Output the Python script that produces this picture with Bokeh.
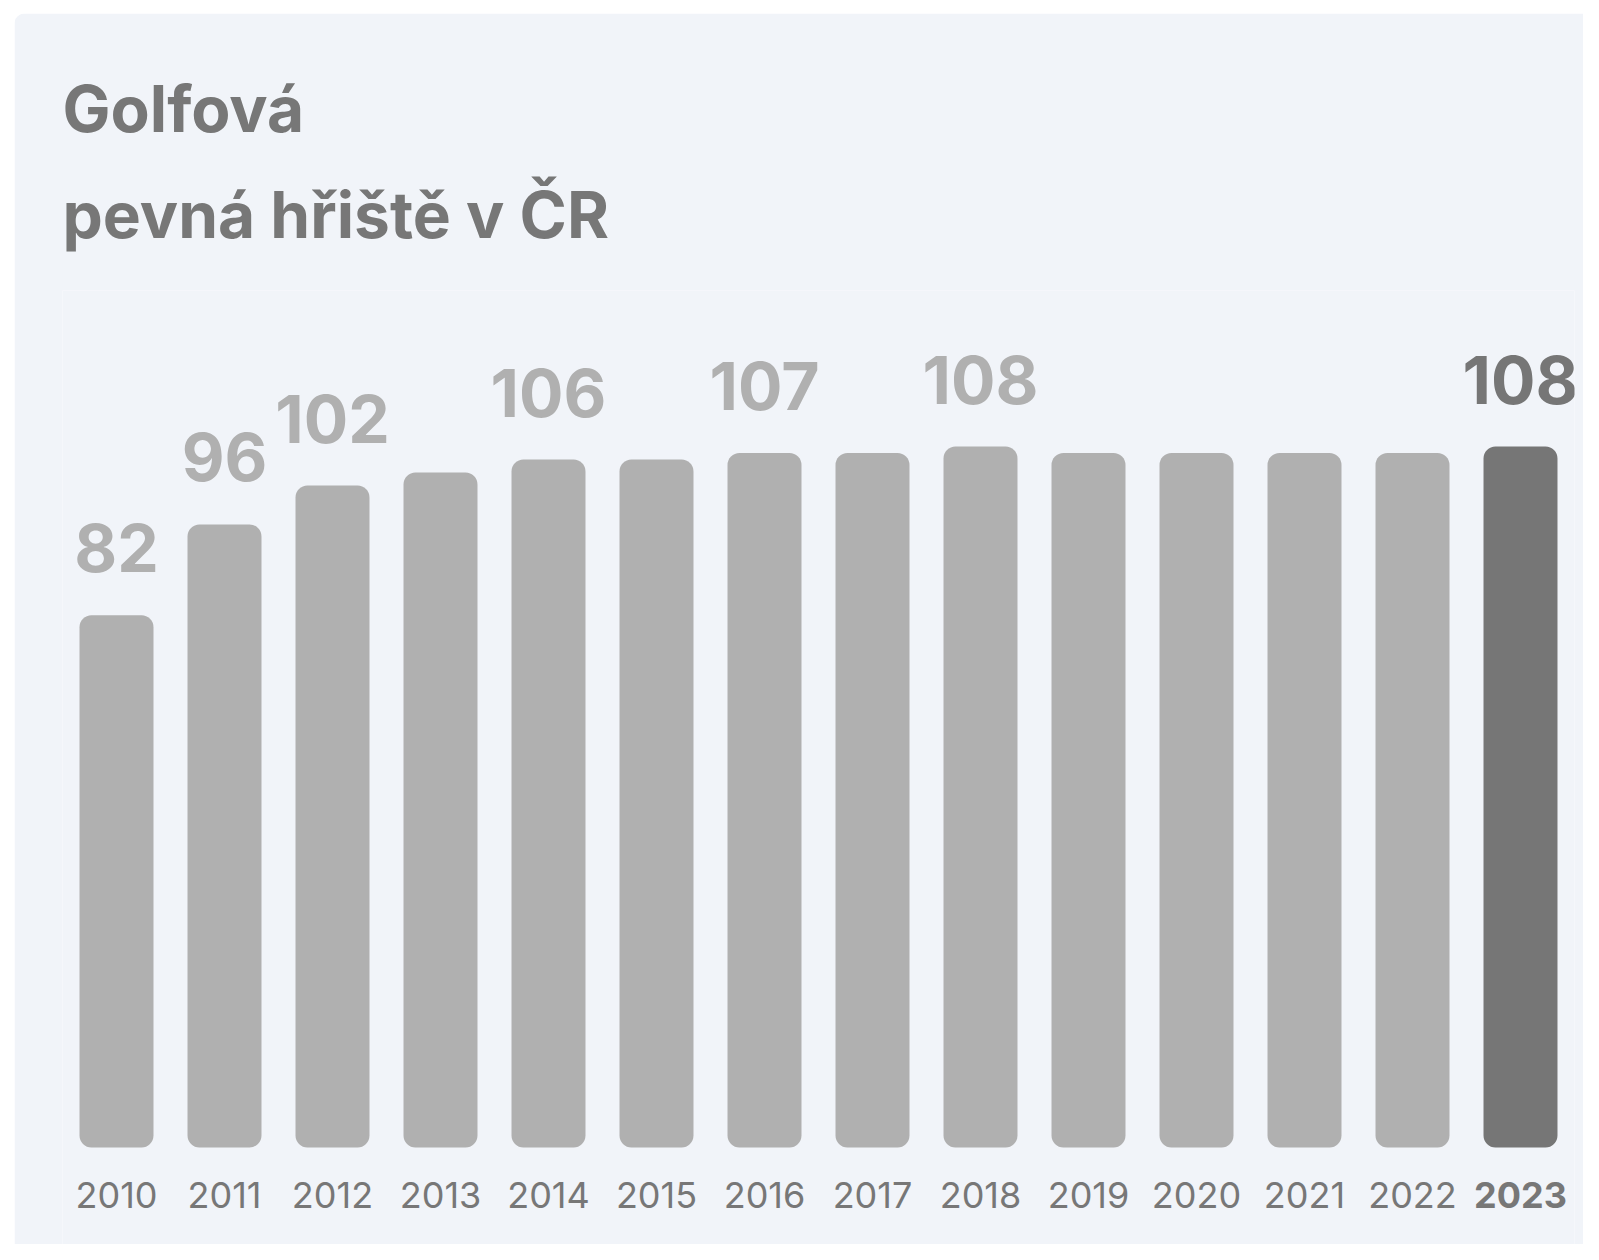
from bokeh.plotting import figure
from bokeh.models import ColumnDataSource, LabelSet, Title, FactorRange, Range1d, Spacer
from bokeh.layouts import column, row
from bokeh.core.properties import value
from bokeh.embed import file_html
from bokeh.resources import INLINE

# ---- data ----
years = ["2010", "2011", "2012", "2013", "2014", "2015", "2016",
         "2017", "2018", "2019", "2020", "2021", "2022", "2023"]
values = [82, 96, 102, 104, 106, 106, 107, 107, 108, 107, 107, 107, 107, 108]
labeled_years = ["2010", "2011", "2012", "2014", "2016", "2018", "2023"]
highlight_year = "2023"
title_line1 = "Golfová"
title_line2 = "pevná hřiště v ČR"

# ---- style ----
FONT = "Inter"
BG = "#f1f4f9"
BAR = "#b0b0b0"
BAR_HI = "#767676"
TXT = "#777777"

colors = [BAR_HI if y == highlight_year else BAR for y in years]
styles = ["bold" if y == highlight_year else "normal" for y in years]
src = ColumnDataSource(dict(year=years, value=values, color=colors,
                            style=styles, zero=[0] * len(years)))

lab_vals = [values[years.index(y)] for y in labeled_years]
lab_cols = [BAR_HI if y == highlight_year else BAR for y in labeled_years]
lab_src = ColumnDataSource(dict(year=labeled_years, value=lab_vals,
                                text=[str(v) for v in lab_vals], color=lab_cols))

p = figure(x_range=FactorRange(factors=years, range_padding=0),
           y_range=Range1d(-14.95, 132.05),
           width=1569, height=1231,
           output_backend="svg", toolbar_location=None,
           x_axis_location=None, y_axis_location=None,
           min_border_left=48, min_border_right=9,
           min_border_top=277, min_border_bottom=0,
           background_fill_color=BG, border_fill_color=BG,
           outline_line_color=None)
p.styles = {"border-radius": "12px 0 0 0", "overflow": "hidden"}

p.xgrid.visible = False
p.ygrid.visible = False

p.vbar(x="year", top="value", bottom=0, width=0.685, source=src,
       fill_color="color", line_color=None, border_radius=12)

# value labels
p.add_layout(LabelSet(x="year", y="value", text="text", source=lab_src,
                      text_color="color", text_font=value(FONT),
                      text_font_size="66px", text_font_style="bold",
                      text_align="center", text_baseline="alphabetic",
                      y_offset=43))

# category (year) labels
p.add_layout(LabelSet(x="year", y="zero", text="year", source=src,
                      text_color=TXT, text_font=value(FONT),
                      text_font_size="36px", text_font_style="style",
                      text_align="center", text_baseline="alphabetic",
                      y_offset=-61))

t2 = Title(text=title_line2, text_font=FONT, text_font_size="64px",
           text_font_style="bold", text_color=TXT, align="left", standoff=75)
t1 = Title(text=title_line1, text_font=FONT, text_font_size="64px",
           text_font_style="bold", text_color=TXT, align="left", standoff=-21)
p.add_layout(t2, "above")
p.add_layout(t1, "above")

layout = column(Spacer(width=1, height=13),
                row(Spacer(width=14, height=1), p))

open("out.html", "w").write(file_html(layout, INLINE))
